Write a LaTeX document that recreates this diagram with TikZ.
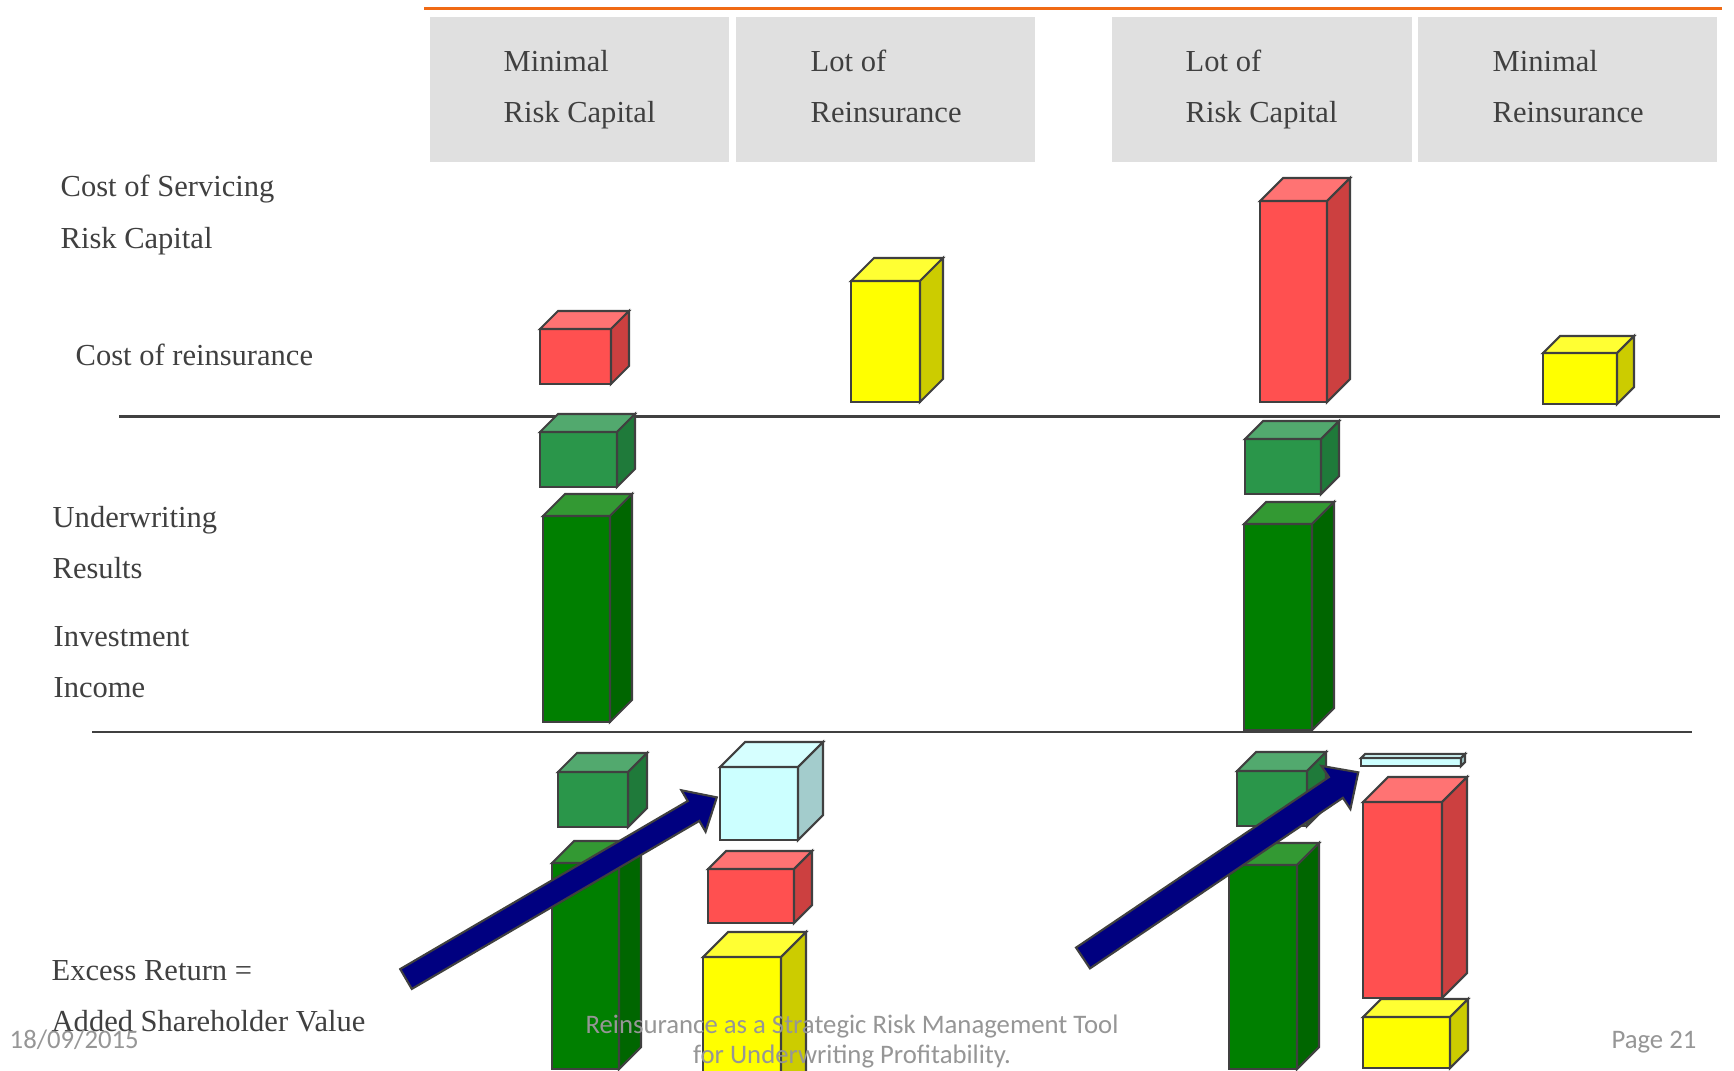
\documentclass[tikz,border=0pt]{standalone}
\usepackage{fontspec}
\setmainfont{Liberation Serif}
\newfontfamily\footfont{Carlito}

% palette
\definecolor{txt}{HTML}{404040}
\definecolor{rule}{HTML}{404040}
\definecolor{topbar}{HTML}{F06A14}
\definecolor{headfill}{HTML}{E0E0E0}
\definecolor{footgray}{RGB}{150,150,150}
\definecolor{navy}{HTML}{000080}
\definecolor{redfront}{HTML}{FF5050}
\definecolor{redtop}{HTML}{FF7373}
\definecolor{redside}{HTML}{CC4040}
\definecolor{yelfront}{HTML}{FFFF00}
\definecolor{yeltop}{HTML}{FFFF33}
\definecolor{yelside}{HTML}{CCCC00}
\definecolor{gsfront}{HTML}{2A964A}
\definecolor{gstop}{HTML}{52A96E}
\definecolor{gsside}{HTML}{1F7A3A}
\definecolor{gtfront}{HTML}{007F00}
\definecolor{gttop}{HTML}{339933}
\definecolor{gtside}{HTML}{006600}
\definecolor{cyfront}{HTML}{CCFFFF}
\definecolor{cytop}{HTML}{D6FFFF}
\definecolor{cyside}{HTML}{A3CCCC}

\tikzset{
  boxline/.style={draw=rule, line width=0.6pt, line join=miter},
  lbl/.style={anchor=base west, inner sep=0pt, text=txt,
    font=\fontsize{8.68pt}{10pt}\selectfont},
  foot/.style={inner sep=0pt, text=footgray,
    font=\footfont\fontsize{7.6pt}{9pt}\selectfont},
  sep/.style={draw=rule, line width=0.75pt},
  blockarrow/.style={draw=rule, line width=0.6pt, fill=navy, line join=miter},
  % 3-D bar: placed at the front face's top-left corner
  % #1 width, #2 height, #3 depth, #4 colour scheme prefix
  pics/cuboid/.style n args={4}{code={
    \path[boxline, fill=#4front] (0,0) rectangle (#1,#2);
    \path[boxline, fill=#4top] (0,0) -- (#3,-#3) -- ({#1+#3},-#3) -- (#1,0) -- cycle;
    \path[boxline, fill=#4side] (#1,0) -- ({#1+#3},-#3) -- ({#1+#3},{#2-#3}) -- (#1,#2) -- cycle;
  }}
}

\begin{document}
\begin{tikzpicture}[x=0.01cm, y=-0.01cm]
\clip (0,0) rectangle (1734,1071);
\fill[white] (0,0) rectangle (1734,1071);

% header strip
\draw[topbar, line width=0.03cm] (424,8.5) -- (1722,8.5);
\fill[headfill] (430,17) rectangle (729,162);
\fill[headfill] (736,17) rectangle (1035,162);
\fill[headfill] (1112,17) rectangle (1412,162);
\fill[headfill] (1418,17) rectangle (1717,162);

\node[lbl] (h1a) at (503,72) {Minimal};
\node[lbl] (h1b) at (503,123) {Risk Capital};
\node[lbl] (h2a) at (810,72) {Lot of};
\node[lbl] (h2b) at (810,123) {Reinsurance};
\node[lbl] (h3a) at (1185,72) {Lot of};
\node[lbl] (h3b) at (1185,123) {Risk Capital};
\node[lbl] (h4a) at (1492,72) {Minimal};
\node[lbl] (h4b) at (1492,123) {Reinsurance};

% separators
\draw[sep] (119,416.5) -- (1720,416.5);
\draw[sep] (92,732) -- (1692,732);

% row labels
\node[lbl] (l1a) at (60,197) {Cost of Servicing};
\node[lbl] (l1b) at (60,249) {Risk Capital};
\node[lbl] (l2) at (75,366) {Cost of reinsurance};
\node[lbl] (l3a) at (52,528) {Underwriting};
\node[lbl] (l3b) at (52,579) {Results};
\node[lbl] (l4a) at (53,647) {Investment};
\node[lbl] (l4b) at (53,698) {Income};

% costs
\pic at (540,329) {cuboid={71}{55}{18}{red}};
\pic at (851,281) {cuboid={69}{121}{23}{yel}};
\pic at (1260,201) {cuboid={67}{201}{23}{red}};
\pic at (1543,353) {cuboid={74}{51}{17}{yel}};

% underwriting results and investment income
\pic at (540,432) {cuboid={77}{55}{18}{gs}};
\pic at (543,516) {cuboid={67}{206}{22}{gt}};
\pic at (1245,439) {cuboid={76}{55}{18}{gs}};
\pic at (1244,524) {cuboid={68}{206}{22}{gt}};

% excess return stacks
\pic at (558,772) {cuboid={70}{55}{19}{gs}};
\pic at (552,863) {cuboid={67}{206}{22}{gt}};
\pic at (720,767) {cuboid={78}{73}{25}{cy}};
\pic at (708,869) {cuboid={86}{54}{18}{red}};
\pic at (703,957) {cuboid={78}{140}{25}{yel}};

\pic at (1237,771) {cuboid={70}{55}{19}{gs}};
\pic at (1229,865) {cuboid={68}{204}{22}{gt}};
\pic at (1361,758) {cuboid={100}{8}{4}{cy}};
\pic at (1363,802) {cuboid={79}{196}{25}{red}};
\pic at (1363,1017) {cuboid={87}{51}{18}{yel}};

% block arrows
\begin{scope}[shift={(406,979)}, rotate=30.3]
  \path[blockarrow] (0,-11.5) -- (333,-11.5) -- (333,-24) -- (360,0)
    -- (333,24) -- (333,11.5) -- (0,11.5) -- cycle;
\end{scope}
\begin{scope}[shift={(1083,958)}, rotate=34]
  \path[blockarrow] (0,-12.5) -- (305,-12.5) -- (305,-26) -- (332,0)
    -- (305,26) -- (305,12.5) -- (0,12.5) -- cycle;
\end{scope}

\node[lbl] (l5a) at (51,980) {Excess Return =};
\node[lbl] (l5b) at (51,1031) {Added Shareholder Value};

% footer
\node[foot, anchor=base west] (date) at (9,1048) {18/09/2015};
\node[foot, anchor=base] (ttl1) at (852,1033) {Reinsurance as a Strategic Risk Management Tool};
\node[foot, anchor=base] (ttl2) at (852,1063) {for Underwriting Profitability.};
\node[foot, anchor=base east] (page) at (1697,1048) {Page 21};
\end{tikzpicture}
\end{document}
